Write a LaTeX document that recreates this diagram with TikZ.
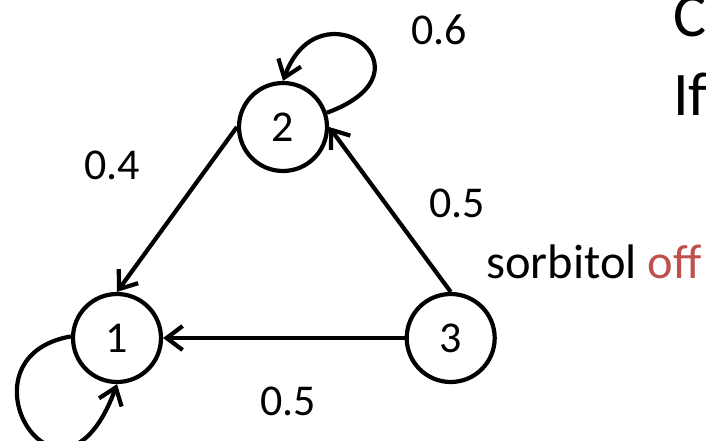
\documentclass[tikz,border=0pt]{standalone}
\usepackage{fontspec}
\setmainfont{Carlito}
\usepackage{xcolor}
\usetikzlibrary{arrows.meta,positioning}
\definecolor{offred}{RGB}{192,80,77}

\begin{document}
\begin{tikzpicture}[
      x=1pt, y=1pt,
      st/.style={
        draw,
        circle,
        line width=4.2pt,
        minimum size=88pt,
        inner sep=0pt,
        font=\fontsize{44}{50}\selectfont
      },
      arc/.style={-{Straight Barb[length=16pt,width=24pt]}, line width=4.2pt},
      wt/.style={font=\fontsize{44}{50}\selectfont},
      note/.style={anchor=base west, inner sep=0pt, font=\fontsize{48.5}{55}\selectfont},
      big/.style={anchor=base west, inner sep=0pt, font=\fontsize{62}{70}\selectfont}
    ]
    \useasboundingbox (0,0) rectangle (706,-441);
    \clip (0,0) rectangle (706,-441);

    \node[st] (one) at (117,-338) {1};
    \node[st, right=241.5pt of one] (three) {3};
    \node[st] (two) at (283,-127) {2};

    \draw[arc] (two.west) -- (one.north);
    \draw[arc] (three.north) -- (two.east);
    \draw[arc] (three) -- (one);
    \draw[arc] (two.18) .. controls +(20:122) and +(70:106) .. (two.north);
    \draw[arc] (one.178) .. controls +(190:122) and +(250:165) .. (one.south);

    \node[wt] (w22) at (439,-30) {0.6};
    \node[wt] (w21) at (112,-165) {0.4};
    \node[wt] (w32) at (457,-203) {0.5};
    \node[wt] (w31) at (288,-401) {0.5};
    \node[note] (cond) at (486,-278) {sorbitol \textcolor{offred}{off}};

    \node[big] (head1) at (673,-37) {C};
    \node[big] (head2) at (673,-115) {If};
  \end{tikzpicture}
\end{document}
